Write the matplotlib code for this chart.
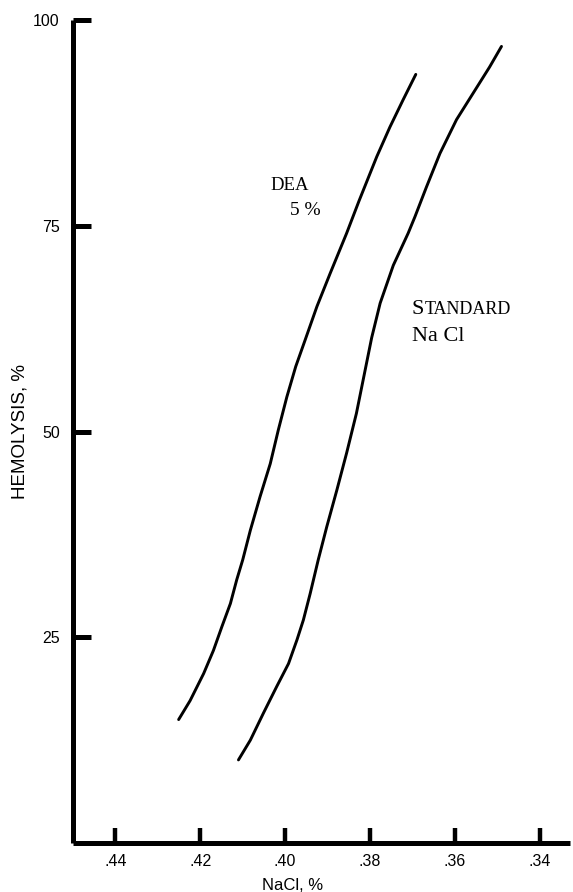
import matplotlib
matplotlib.use("Agg")
import matplotlib.pyplot as plt
from matplotlib.transforms import offset_copy

# NaCl concentration (%) vs hemolysis (%)
dea_nacl = [0.4251, 0.4224, 0.4192, 0.4169, 0.4149, 0.4129, 0.4114, 0.4100,
            0.4082, 0.4059, 0.4035, 0.4016, 0.3996, 0.3975, 0.3953, 0.3925,
            0.3894, 0.3855, 0.3826, 0.3784, 0.3753, 0.3722, 0.3692]
dea_hemolysis = [15.0, 17.3, 20.6, 23.4, 26.3, 29.1, 32.0, 34.4,
                 38.0, 42.1, 46.1, 50.2, 54.2, 57.9, 61.1, 65.2,
                 69.2, 74.1, 78.0, 83.4, 87.0, 90.3, 93.4]

std_nacl = [0.4110, 0.4082, 0.4051, 0.4020, 0.3992, 0.3972, 0.3957, 0.3941,
            0.3922, 0.3902, 0.3878, 0.3855, 0.3832, 0.3814, 0.3796,
            0.3776, 0.3745, 0.3710, 0.3694, 0.3667, 0.3635, 0.3596, 0.3557,
            0.3518, 0.3490]
std_hemolysis = [10.1, 12.5, 15.8, 19.0, 21.8, 24.7, 27.1, 30.3,
                 34.4, 38.4, 42.9, 47.4, 52.2, 56.8, 61.4,
                 65.6, 70.2, 74.1, 76.1, 79.7, 83.8, 87.9, 91.1,
                 94.3, 96.8]

x_ticks = [0.44, 0.42, 0.40, 0.38, 0.36, 0.34]
x_tick_labels = [".44", ".42", ".40", ".38", ".36", ".34"]
y_ticks = [25, 50, 75, 100]

fig = plt.figure(figsize=(5.73, 8.92), dpi=100)
ax = fig.add_axes([0.1274, 0.0549, 0.867, 0.9226])

ax.plot(dea_nacl, dea_hemolysis, color="black", linewidth=2.1,
        solid_capstyle="round", solid_joinstyle="round")
ax.plot(std_nacl, std_hemolysis, color="black", linewidth=2.1,
        solid_capstyle="round", solid_joinstyle="round")

ax.set_xlim(0.45, 0.3329)
ax.set_ylim(0, 100)

for side in ("top", "right"):
    ax.spines[side].set_visible(False)
for side in ("left", "bottom"):
    ax.spines[side].set_linewidth(3.6)
    ax.spines[side].set_capstyle("butt")

ax.set_xticks(x_ticks)
ax.set_xticklabels(x_tick_labels)
ax.set_yticks(y_ticks)
ax.tick_params(axis="x", direction="in", length=11, width=3.2, pad=8,
               labelsize=11.5)
ax.tick_params(axis="y", direction="in", length=13, width=3.6, pad=9.5,
               labelsize=11.5)
for lbl in ax.get_xticklabels() + ax.get_yticklabels():
    lbl.set_family("Liberation Sans")

ax.set_xlabel("NaCl, %", family="Liberation Sans", fontsize=12)
ax.xaxis.set_label_coords(0.441, -0.0425)
ax.set_ylabel("HEMOLYSIS, %", family="Liberation Sans", fontsize=13.5,
              va="center")
ax.yaxis.set_label_coords(-0.107, 0.5)

serif = "Liberation Serif"
ax.text(0.4035, 79.3, "DEA", family=serif, fontsize=13.5, va="baseline")
ax.text(0.3988, 76.3, "5 %", family=serif, fontsize=14, va="baseline")
ax.text(0.3701, 64.3, "S", family=serif, fontsize=16, va="baseline")
small_caps = offset_copy(ax.transData, fig=fig, x=0.556 * 16, y=0,
                         units="points")
ax.text(0.3701, 64.3, "TANDARD", family=serif, fontsize=13, va="baseline",
        transform=small_caps)
ax.text(0.3701, 61.0, "Na Cl", family=serif, fontsize=16, va="baseline")

fig.savefig("out.png", dpi=100)
